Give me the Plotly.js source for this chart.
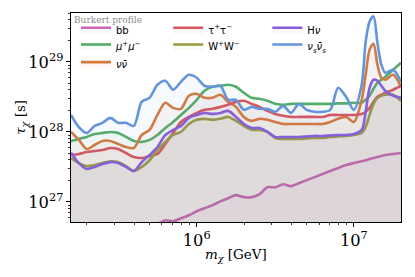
<!DOCTYPE html>
<html>
<head>
<meta charset="utf-8">
<script src="https://cdn.plot.ly/plotly-3.0.1.min.js"></script>
<style>html,body{margin:0;padding:0;background:#fff;}#chart{width:415px;height:277px;}</style>
</head>
<body>
<div id="chart"></div>
<script>
// Dark-matter mass m_chi [GeV]
const mass = [1.585e5, 1.778e5, 1.995e5, 2.239e5, 2.512e5, 2.818e5, 3.162e5, 3.548e5, 3.981e5, 4.467e5,
  5.012e5, 5.623e5, 6.310e5, 7.079e5, 7.943e5, 8.913e5, 1.0e6, 1.122e6, 1.259e6, 1.413e6,
  1.585e6, 1.778e6, 1.995e6, 2.239e6, 2.512e6, 2.818e6, 3.162e6, 3.548e6, 3.981e6, 4.467e6,
  5.012e6, 5.623e6, 6.310e6, 7.079e6, 7.943e6, 8.913e6, 1.0e7, 1.122e7, 1.189e7, 1.259e7,
  1.334e7, 1.413e7, 1.496e7, 1.585e7, 1.778e7, 1.995e7];

// Lifetime limits tau_chi [s]
const tauBB = [null, null, null, null, null, null, null, null, null, null,
  null, 4.79e26, 5.46e26, 5.29e26, 5.83e26, 6.45e26, 7.35e26, 8.12e26, 8.96e26, 1.02e27,
  1.13e27, 1.25e27, 1.17e27, 1.17e27, 1.29e27, 1.62e27, 1.62e27, 1.79e27, 1.68e27, 1.85e27,
  2.05e27, 2.26e27, 2.50e27, 2.76e27, 3.05e27, 3.36e27, 3.59e27, 3.81e27, 3.94e27, 4.10e27,
  4.24e27, 4.38e27, 4.53e27, 4.68e27, 4.84e27, 5.00e27];
const tauMuMu = [7.43e27, 7.94e27, 8.48e27, 9.35e27, 9.68e27, 1.00e28, 9.68e27, 8.48e27, 7.43e27, 7.19e27,
  7.70e27, 9.05e27, 1.14e28, 1.39e28, 1.75e28, 2.21e28, 2.88e28, 3.88e28, 4.42e28, 4.57e28,
  4.72e28, 4.42e28, 3.63e28, 3.08e28, 2.98e28, 2.79e28, 2.52e28, 2.44e28, 2.52e28, 2.52e28,
  2.52e28, 2.52e28, 2.52e28, 2.52e28, 2.56e28, 2.56e28, 2.61e28, 2.61e28, 2.88e28, 3.29e28,
  4.14e28, 5.05e28, 5.57e28, 6.15e28, 7.75e28, 9.77e28];
const tauNuNu = [1.00e28, 7.70e27, 5.70e27, 6.51e27, 7.43e27, 7.43e27, 6.73e27, 6.09e27, 5.89e27, 9.05e27,
  1.07e28, 1.75e28, 2.61e28, 2.21e28, 2.14e28, 3.29e28, 3.51e28, 3.08e28, 3.08e28, 3.40e28,
  2.69e28, 2.28e28, 1.64e28, 1.44e28, 1.54e28, 1.49e28, 1.39e28, 1.30e28, 1.30e28, 1.30e28,
  1.30e28, 1.30e28, 1.30e28, 1.39e28, 1.54e28, 1.64e28, 1.39e28, 2.88e28, 6.57e28, 1.50e29,
  1.82e29, 9.15e28, 5.95e28, 5.57e28, 6.57e28, 4.42e28];
const tauTauTau = [4.68e27, 4.84e27, 5.16e27, 5.34e27, 5.52e27, 5.89e27, 5.70e27, 5.00e27, 4.38e27, 4.24e27,
  4.53e27, 4.84e27, 6.73e27, 9.68e27, 1.39e28, 1.64e28, 1.87e28, 2.07e28, 2.14e28, 2.28e28,
  2.44e28, 2.69e28, 2.79e28, 2.52e28, 2.28e28, 2.00e28, 1.81e28, 1.70e28, 1.64e28, 1.64e28,
  1.64e28, 1.64e28, 1.64e28, 1.75e28, 1.75e28, 1.75e28, 1.75e28, 1.81e28, 1.94e28, 2.21e28,
  2.69e28, 3.18e28, 3.40e28, 3.63e28, 4.01e28, 4.57e28];
const tauWW = [4.24e27, 3.59e27, 3.25e27, 3.36e27, 3.59e27, 3.81e27, 3.71e27, 3.25e27, 2.76e27, 3.16e27,
  3.94e27, 5.52e27, 7.19e27, 9.05e27, 1.00e28, 1.30e28, 1.49e28, 1.54e28, 1.49e28, 1.54e28,
  1.64e28, 1.44e28, 1.22e28, 1.07e28, 1.07e28, 1.00e28, 8.20e27, 7.94e27, 7.94e27, 7.94e27,
  8.07e27, 8.20e27, 8.20e27, 8.48e27, 8.62e27, 8.77e27, 9.05e27, 9.68e27, 1.18e28, 1.75e28,
  2.52e28, 3.08e28, 3.29e28, 3.40e28, 3.40e28, 2.79e28];
const tauHNu = [5.05e27, 3.59e27, 2.96e27, 3.16e27, 3.47e27, 3.71e27, 3.59e27, 3.16e27, 2.76e27, 3.71e27,
  4.68e27, 6.09e27, 9.05e27, 1.07e28, 1.22e28, 1.59e28, 1.75e28, 1.87e28, 1.81e28, 1.87e28,
  2.00e28, 1.64e28, 1.30e28, 1.14e28, 1.14e28, 1.00e28, 8.48e27, 8.48e27, 8.48e27, 8.48e27,
  8.62e27, 8.77e27, 8.77e27, 8.91e27, 9.05e27, 9.05e27, 9.35e27, 1.07e28, 1.94e28, 4.28e28,
  5.57e28, 5.39e28, 4.57e28, 3.88e28, 3.29e28, 3.08e28];
const tauNuSNuS = [1.75e28, 1.17e28, 9.68e27, 1.22e28, 1.35e28, 1.59e28, 1.35e28, 1.35e28, 1.22e28, 2.72e28,
  3.08e28, 4.72e28, 5.39e28, 4.01e28, 5.22e28, 6.57e28, 5.95e28, 4.57e28, 4.42e28, 4.57e28,
  2.88e28, 2.88e28, 2.07e28, 2.28e28, 2.14e28, 2.14e28, 1.94e28, 2.36e28, 1.87e28, 2.52e28,
  2.07e28, 1.94e28, 1.94e28, 2.07e28, 4.28e28, 3.18e28, 2.07e28, 4.72e28, 1.95e29, 3.79e29,
  4.48e29, 1.89e29, 9.15e28, 7.02e28, 7.75e28, 5.22e28];

const labels = ['bb', '<i>μ</i><sup>+</sup><i>μ</i><sup>−</sup>', '<i>ν</i><i>ν̄</i>',
  'τ<sup>+</sup>τ<sup>−</sup>', 'W<sup>+</sup>W<sup>−</sup>', 'H<i>ν</i>',
  '<i>ν</i><sub><i>s</i></sub><i>ν̄</i><sub><i>s</i></sub>'];
const xTitle = '<i>m</i><sub><i>χ</i></sub> [GeV]';
const yTitle = '<i>τ</i><sub><i>χ</i></sub> [s]';
const seriesList = [tauBB, tauMuMu, tauNuNu, tauTauTau, tauWW, tauHNu, tauNuSNuS];
const colors = ['#cc66bb', '#52ad6a', '#d77a3d', '#d8545e', '#999a3c', '#8a5cd8', '#6495da'];
const fills = ['rgba(204,102,187,0.05)', 'rgba(82,173,106,0.05)', 'rgba(215,122,61,0.05)',
  'rgba(216,84,94,0.05)', 'rgba(153,154,60,0.05)', 'rgba(138,92,216,0.05)', 'rgba(100,149,218,0.06)'];
const legendIds = ['legend', 'legend2', 'legend3', 'legend4', 'legend5', 'legend6', 'legend7'];

const traces = [];
seriesList.forEach((ys, i) => {
  const xs = [], yv = [];
  ys.forEach((v, j) => { if (v !== null) { xs.push(mass[j]); yv.push(v); } });
  traces.push({x: xs, y: xs.map(() => 1e25), mode: 'lines', line: {width: 0, color: colors[i]},
    showlegend: false, hoverinfo: 'skip'});
  traces.push({x: xs, y: yv, mode: 'lines', name: labels[i], legend: legendIds[i],
    line: {color: colors[i], width: 2.6, shape: 'spline', smoothing: 0.8},
    fill: 'tonexty', fillcolor: fills[i]});
});

// plot area px: x 70.7..401, y 13.3..221.7
const colX = [0.0151, 0.2946, 0.5949];
const rowY = [0.9199, 0.8397, 0.7553];
const cells = [[0,0],[0,1],[0,2],[1,0],[1,1],[2,0],[2,1]];
const legendFont = {family: 'DejaVu Sans', size: 10, color: '#000'};
const titleFont = {family: 'DejaVu Serif', size: 13.5, color: '#000'};

const layout = {
  width: 415, height: 277,
  margin: {l: 71, r: 14, t: 13, b: 55},
  paper_bgcolor: '#fff', plot_bgcolor: '#fff',
  font: {family: 'DejaVu Serif', color: '#000'},
  xaxis: {
    type: 'log', range: [5.2, 7.3], dtick: 1, exponentformat: 'power',
    showgrid: false, zeroline: false, showline: true, mirror: true, linecolor: '#000', linewidth: 1,
    ticks: 'outside', ticklen: 4, tickwidth: 1, tickcolor: '#000',
    tickfont: {family: 'DejaVu Serif', size: 13, color: '#000'},
    minor: {ticks: 'outside', ticklen: 2, tickwidth: 0.8, tickcolor: '#000', dtick: 'D1', showgrid: false}
  },
  yaxis: {
    type: 'log', range: [26.713, 29.70], dtick: 1, exponentformat: 'power',
    showgrid: false, zeroline: false, showline: true, mirror: true, linecolor: '#000', linewidth: 1,
    ticks: 'outside', ticklen: 4, tickwidth: 1, tickcolor: '#000',
    tickfont: {family: 'DejaVu Serif', size: 13, color: '#000'},
    minor: {ticks: 'outside', ticklen: 2, tickwidth: 0.8, tickcolor: '#000', dtick: 'D1', showgrid: false}
  },
  annotations: [{
    text: 'Burkert profile', xref: 'paper', yref: 'paper', x: 0.002, y: 1.0,
    xanchor: 'left', yanchor: 'top', showarrow: false,
    font: {family: 'DejaVu Serif', size: 9, color: '#8c8c8c'}
  }, {
    text: xTitle, xref: 'paper', yref: 'paper', x: 0.5, y: -0.16,
    xanchor: 'center', yanchor: 'middle', showarrow: false, font: titleFont
  }, {
    text: yTitle, xref: 'paper', yref: 'paper', x: -0.1535, y: 0.5, textangle: -90,
    xanchor: 'center', yanchor: 'middle', showarrow: false, font: titleFont
  }]
};
cells.forEach((c, i) => {
  layout[legendIds[i]] = {x: colX[c[0]], y: rowY[c[1]], xanchor: 'left', yanchor: 'middle',
    bgcolor: 'rgba(0,0,0,0)', borderwidth: 0, font: legendFont, itemwidth: 30};
});

Plotly.newPlot('chart', traces, layout, {staticPlot: true, displayModeBar: false});
</script>
</body>
</html>
